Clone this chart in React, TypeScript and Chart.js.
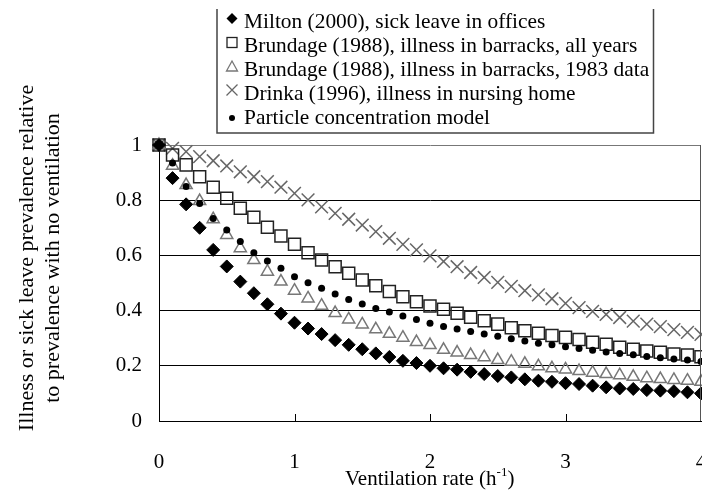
import React, { useEffect, useRef } from "react";
import { Chart, registerables } from "chart.js";

Chart.register(...registerables);

const xValues = [0, 0.1, 0.2, 0.3, 0.4, 0.5, 0.6, 0.7, 0.8, 0.9, 1, 1.1, 1.2, 1.3, 1.4, 1.5, 1.6, 1.7, 1.8, 1.9, 2, 2.1, 2.2, 2.3, 2.4, 2.5, 2.6, 2.7, 2.8, 2.9, 3, 3.1, 3.2, 3.3, 3.4, 3.5, 3.6, 3.7, 3.8, 3.9, 4];

const milton = [1, 0.88, 0.785, 0.7, 0.62, 0.56, 0.505, 0.463, 0.423, 0.389, 0.356, 0.335, 0.315, 0.293, 0.276, 0.26, 0.245, 0.232, 0.218, 0.21, 0.2, 0.191, 0.186, 0.178, 0.17, 0.163, 0.158, 0.151, 0.146, 0.142, 0.137, 0.134, 0.128, 0.122, 0.118, 0.116, 0.112, 0.11, 0.108, 0.104, 0.1];
const brundageAll = [1, 0.964, 0.928, 0.885, 0.847, 0.807, 0.771, 0.738, 0.702, 0.67, 0.64, 0.61, 0.583, 0.559, 0.535, 0.511, 0.49, 0.469, 0.45, 0.432, 0.417, 0.405, 0.39, 0.376, 0.363, 0.351, 0.338, 0.327, 0.318, 0.31, 0.303, 0.295, 0.285, 0.278, 0.267, 0.26, 0.254, 0.249, 0.243, 0.239, 0.233];
const brundage1983 = [1, 0.925, 0.855, 0.797, 0.731, 0.674, 0.626, 0.583, 0.541, 0.505, 0.472, 0.444, 0.418, 0.391, 0.368, 0.35, 0.332, 0.316, 0.302, 0.286, 0.275, 0.258, 0.248, 0.239, 0.231, 0.221, 0.215, 0.207, 0.198, 0.191, 0.187, 0.181, 0.175, 0.17, 0.166, 0.16, 0.155, 0.152, 0.149, 0.146, 0.142];
const drinka = [1, 0.988, 0.976, 0.958, 0.943, 0.924, 0.903, 0.885, 0.867, 0.847, 0.825, 0.801, 0.776, 0.752, 0.731, 0.71, 0.686, 0.662, 0.64, 0.62, 0.598, 0.578, 0.559, 0.538, 0.52, 0.502, 0.488, 0.472, 0.457, 0.443, 0.426, 0.411, 0.397, 0.386, 0.375, 0.362, 0.351, 0.342, 0.331, 0.321, 0.314];
const particleModel = [1, 0.935, 0.85, 0.788, 0.734, 0.692, 0.65, 0.61, 0.58, 0.553, 0.523, 0.501, 0.481, 0.46, 0.44, 0.424, 0.408, 0.395, 0.38, 0.368, 0.354, 0.342, 0.333, 0.324, 0.315, 0.307, 0.298, 0.29, 0.282, 0.276, 0.269, 0.263, 0.256, 0.25, 0.245, 0.24, 0.234, 0.229, 0.225, 0.221, 0.216];

const seriesLabels = [
  "Milton (2000), sick leave in offices",
  "Brundage (1988), illness in barracks, all years",
  "Brundage (1988), illness in barracks, 1983 data",
  "Drinka (1996), illness in nursing home",
  "Particle concentration model",
];
const xTickValues = [0, 1, 2, 3, 4];
const yTickLabels = ["0", "0.2", "0.4", "0.6", "0.8", "1"];
const yTitleLines = ["Illness or sick leave prevalence relative", "to prevalence with no ventilation"];
const xTitleMain = "Ventilation rate (h";
const xTitleSup = "-1";
const xTitleEnd = ")";

const FONT = "'Liberation Serif', 'Times New Roman', serif";

const pts = (ys: number[]) => ys.map((y, i) => ({ x: xValues[i], y }));

function drawMarker(ctx: CanvasRenderingContext2D, kind: string, cx: number, cy: number) {
  ctx.save();
  ctx.beginPath();
  if (kind === "diamond") {
    const r = 5.5;
    ctx.moveTo(cx, cy - r);
    ctx.lineTo(cx + r, cy);
    ctx.lineTo(cx, cy + r);
    ctx.lineTo(cx - r, cy);
    ctx.closePath();
    ctx.fillStyle = "#000";
    ctx.fill();
  } else if (kind === "square") {
    ctx.lineWidth = 1.3;
    ctx.strokeStyle = "#222";
    ctx.strokeRect(cx - 5, cy - 5, 10, 10);
  } else if (kind === "triangle") {
    ctx.moveTo(cx, cy - 5.5);
    ctx.lineTo(cx + 5.5, cy + 4.5);
    ctx.lineTo(cx - 5.5, cy + 4.5);
    ctx.closePath();
    ctx.lineWidth = 1.3;
    ctx.strokeStyle = "#777";
    ctx.stroke();
  } else if (kind === "cross") {
    ctx.moveTo(cx - 5.5, cy - 5.5);
    ctx.lineTo(cx + 5.5, cy + 5.5);
    ctx.moveTo(cx + 5.5, cy - 5.5);
    ctx.lineTo(cx - 5.5, cy + 5.5);
    ctx.lineWidth = 1.3;
    ctx.strokeStyle = "#666";
    ctx.stroke();
  } else {
    ctx.arc(cx, cy, 3, 0, Math.PI * 2);
    ctx.fillStyle = "#000";
    ctx.fill();
  }
  ctx.restore();
}

const decorPlugin = {
  id: "decor",
  afterDraw(chart: any) {
    const ctx: CanvasRenderingContext2D = chart.ctx;
    const area = chart.chartArea;
    const xs = chart.scales.x;
    ctx.save();
    // inner x ticks
    ctx.strokeStyle = "#000";
    ctx.lineWidth = 1;
    for (const v of [1, 2, 3]) {
      const px = Math.round(xs.getPixelForValue(v)) + 0.5;
      ctx.beginPath();
      ctx.moveTo(px, area.bottom);
      ctx.lineTo(px, area.bottom - 7);
      ctx.stroke();
    }
    // right frame
    ctx.strokeStyle = "#555";
    ctx.beginPath();
    const rx = Math.round(xs.getPixelForValue(4)) - 0.5;
    ctx.moveTo(rx, area.top);
    ctx.lineTo(rx, area.bottom);
    ctx.stroke();

    // legend frame
    ctx.strokeStyle = "#444";
    ctx.lineWidth = 1.5;
    ctx.beginPath();
    ctx.moveTo(217, 9);
    ctx.lineTo(217, 133);
    ctx.lineTo(653.5, 133);
    ctx.lineTo(653.5, 9);
    ctx.stroke();

    const kinds = ["diamond", "square", "triangle", "cross", "dot"];
    const markerY = [18.5, 42.5, 66.5, 90, 118];
    const baseY = [28, 52, 76, 100, 124];
    ctx.font = `21.4px ${FONT}`;
    ctx.fillStyle = "#000";
    ctx.textAlign = "left";
    ctx.textBaseline = "alphabetic";
    for (let i = 0; i < seriesLabels.length; i++) {
      drawMarker(ctx, kinds[i], 232, markerY[i]);
      ctx.fillText(seriesLabels[i], 244, baseY[i]);
    }

    // y title
    ctx.font = `22px ${FONT}`;
    ctx.save();
    ctx.textAlign = "center";
    ctx.translate(33, 258);
    ctx.rotate(-Math.PI / 2);
    ctx.fillText(yTitleLines[0], 0, 0);
    ctx.restore();
    ctx.save();
    ctx.textAlign = "center";
    ctx.translate(59, 258);
    ctx.rotate(-Math.PI / 2);
    ctx.fillText(yTitleLines[1], 0, 0);
    ctx.restore();

    // x title
    let x = 345;
    const by = 485;
    ctx.font = `21px ${FONT}`;
    ctx.fillText(xTitleMain, x, by);
    x += ctx.measureText(xTitleMain).width;
    ctx.font = `13px ${FONT}`;
    ctx.fillText(xTitleSup, x, by - 9);
    x += ctx.measureText(xTitleSup).width;
    ctx.font = `21px ${FONT}`;
    ctx.fillText(xTitleEnd, x, by);
    ctx.restore();
  },
};

export default function App() {
  const ref = useRef<HTMLCanvasElement | null>(null);
  useEffect(() => {
    if (!ref.current) return;
    const chart = new Chart(ref.current, {
      type: "scatter",
      data: {
        datasets: [
          {
            label: seriesLabels[0],
            data: pts(milton),
            pointStyle: "rectRot",
            pointRadius: 6.5,
            backgroundColor: "#000",
            borderColor: "#000",
            borderWidth: 1,
            order: 1,
          },
          {
            label: seriesLabels[1],
            data: pts(brundageAll),
            pointStyle: "rect",
            pointRadius: 8.5,
            backgroundColor: "rgba(255,255,255,0)",
            borderColor: "#222",
            borderWidth: 1.5,
            order: 4,
          },
          {
            label: seriesLabels[2],
            data: pts(brundage1983),
            pointStyle: "triangle",
            pointRadius: 7,
            backgroundColor: "rgba(255,255,255,0)",
            borderColor: "#777",
            borderWidth: 1.5,
            order: 3,
          },
          {
            label: seriesLabels[3],
            data: pts(drinka),
            pointStyle: "crossRot",
            pointRadius: 9,
            backgroundColor: "#666",
            borderColor: "#666",
            borderWidth: 1.5,
            order: 5,
          },
          {
            label: seriesLabels[4],
            data: pts(particleModel),
            pointStyle: "circle",
            pointRadius: 3.5,
            backgroundColor: "#000",
            borderColor: "#000",
            borderWidth: 0,
            order: 2,
          },
        ] as any,
      },
      options: {
        responsive: false,
        animation: false,
        devicePixelRatio: 1,
        clip: false as any,
        layout: { autoPadding: false, padding: { top: 145, right: 1, left: 0, bottom: 0 } },
        plugins: { legend: { display: false }, tooltip: { enabled: false } },
        font: { family: FONT, size: 21 } as any,
        scales: {
          x: {
            type: "linear",
            min: 0,
            max: 4,
            afterBuildTicks: (scale: any) => {
              scale.ticks = xTickValues.map((v) => ({ value: v }));
            },
            ticks: { color: "#000", font: { family: FONT, size: 21 }, padding: 29, maxRotation: 0, autoSkip: false },
            grid: { display: false, drawTicks: false },
            border: { display: true, color: "#000", width: 1 },
            afterFit: (scale: any) => {
              scale.height = 69;
              scale.paddingLeft = 0;
              scale.paddingRight = 0;
            },
          },
          y: {
            type: "linear",
            min: 0,
            max: 1,
            ticks: {
              stepSize: 0.2,
              color: "#000",
              font: { family: FONT, size: 21 },
              padding: 17,
              callback: (_v: any, i: number) => yTickLabels[i],
            },
            grid: {
              drawTicks: false,
              color: (c: any) => (c.tick && c.tick.value === 1 ? "#777" : "#000"),
              lineWidth: 1,
            },
            border: { display: true, color: "#000", width: 1 },
            afterFit: (scale: any) => {
              scale.width = 159;
              scale.paddingTop = 0;
              scale.paddingBottom = 0;
            },
          },
        },
      } as any,
      plugins: [decorPlugin],
    });
    return () => chart.destroy();
  }, []);
  return (
    <div style={{ position: "absolute", left: 0, top: 0, width: 702, height: 490, background: "#fff" }}>
      <canvas ref={ref} width={702} height={490} style={{ display: "block" }} />
    </div>
  );
}
